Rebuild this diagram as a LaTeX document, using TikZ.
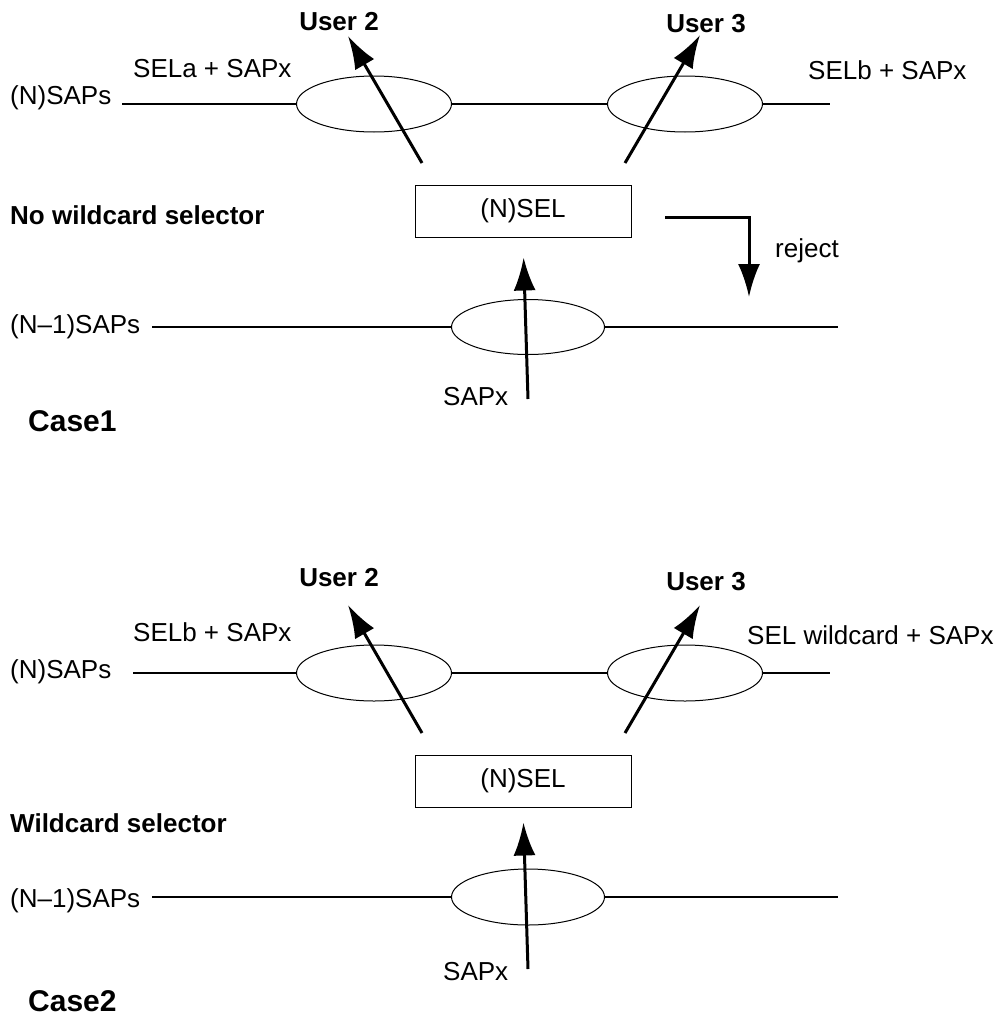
\documentclass[tikz,border=0pt]{standalone}
\usepackage{fontspec}
\setmainfont{Liberation Sans}
\usetikzlibrary{arrows.meta,shapes.geometric}
\begin{document}
\begin{tikzpicture}[x=1pt,y=-1pt,
  lbl/.style={inner sep=0pt,anchor=west,font=\fontsize{26}{30}\selectfont},
  blbl/.style={lbl,font=\fontsize{26}{30}\selectfont\bfseries},
  casel/.style={lbl,font=\fontsize{30}{34}\selectfont\bfseries},
  sap/.style={ellipse,draw,line width=1pt,inner sep=0pt,minimum width=155pt,minimum height=56pt},
  selbox/.style={draw,line width=1pt,minimum width=216pt,minimum height=52pt,inner sep=0pt,font=\fontsize{26}{30}\selectfont},
  bus/.style={line width=1.2pt},
  tip/.style={-{Latex[length=33pt,width=22pt]}},
  flow/.style={line width=3pt,tip}]
\useasboundingbox (0,0) rectangle (1003,1017);

% ---------- Case 1: no wildcard selector ----------
\node[lbl] (nsapsA) at (10,98) {(N)SAPs};
\node[lbl] (selaA) at (133,69) {SELa + SAPx};
\node[lbl] (selbA) at (808,70) {SELb + SAPx};
\node[sap] (e1) at (374,104) {};
\node[sap] (e2) at (685,104) {};
\coordinate (nA0) at (122,104);
\coordinate (nA1) at (830,104);
\draw[bus] (nA0) -- (e1.west);
\draw[bus] (e1.east) -- (e2.west);
\draw[bus] (e2.east) -- (nA1);

\node[blbl,anchor=center] (u2A) at (339,22) {User 2};
\node[blbl,anchor=center] (u3A) at (706,24) {User 3};
\coordinate (s2A) at (422,163);
\coordinate (t2A) at (348,36);
\coordinate (s3A) at (625,163);
\coordinate (t3A) at (700,35);
\draw[flow] (s2A) -- (t2A);
\draw[flow] (s3A) -- (t3A);

\node[selbox] (selA) at (523,211) {(N)SEL};
\node[blbl] (nowild) at (10,215) {No wildcard selector};
\coordinate (rj0) at (665,217);
\coordinate (rj1) at (749,297);
\draw[flow] (rj0) -| (rj1);
\node[lbl] (reject) at (775,251) {reject};

\node[lbl] (nmA) at (10,327) {(N\textendash 1)SAPs};
\node[sap,minimum width=153pt,minimum height=55pt] (e3) at (528,327) {};
\coordinate (mA0) at (152,327);
\coordinate (mA1) at (838,327);
\draw[bus] (mA0) -- (e3.west);
\draw[bus] (e3.east) -- (mA1);
\coordinate (inA) at (528,399);
\draw[flow,shorten >=20pt] (inA) -- (selA.south);
\node[lbl] (sapxA) at (443,397) {SAPx};
\node[casel] (case1) at (28,421) {Case1};

% ---------- Case 2: wildcard selector ----------
\node[lbl] (nsapsB) at (10,672) {(N)SAPs};
\node[lbl] (selbB) at (133,632) {SELb + SAPx};
\node[lbl] (selwB) at (747,635) {SEL wildcard + SAPx};
\node[sap] (e4) at (374,673) {};
\node[sap] (e5) at (685,673) {};
\coordinate (nB0) at (133,673);
\coordinate (nB1) at (830,673);
\draw[bus] (nB0) -- (e4.west);
\draw[bus] (e4.east) -- (e5.west);
\draw[bus] (e5.east) -- (nB1);

\node[blbl,anchor=center] (u2B) at (339,578) {User 2};
\node[blbl,anchor=center] (u3B) at (706,582) {User 3};
\coordinate (s2B) at (422,733);
\coordinate (t2B) at (348,605);
\coordinate (s3B) at (625,733);
\coordinate (t3B) at (700,605);
\draw[flow] (s2B) -- (t2B);
\draw[flow] (s3B) -- (t3B);

\node[selbox] (selB) at (523,781) {(N)SEL};
\node[blbl] (wild) at (10,823) {Wildcard selector};

\node[lbl] (nmB) at (10,901) {(N\textendash 1)SAPs};
\node[sap,minimum width=153pt] (e6) at (528,897) {};
\coordinate (mB0) at (152,897);
\coordinate (mB1) at (838,897);
\draw[bus] (mB0) -- (e6.west);
\draw[bus] (e6.east) -- (mB1);
\coordinate (inB) at (528,969);
\draw[flow,shorten >=15pt] (inB) -- (selB.south);
\node[lbl] (sapxB) at (443,972) {SAPx};
\node[casel] (case2) at (28,1001) {Case2};
\end{tikzpicture}
\end{document}
